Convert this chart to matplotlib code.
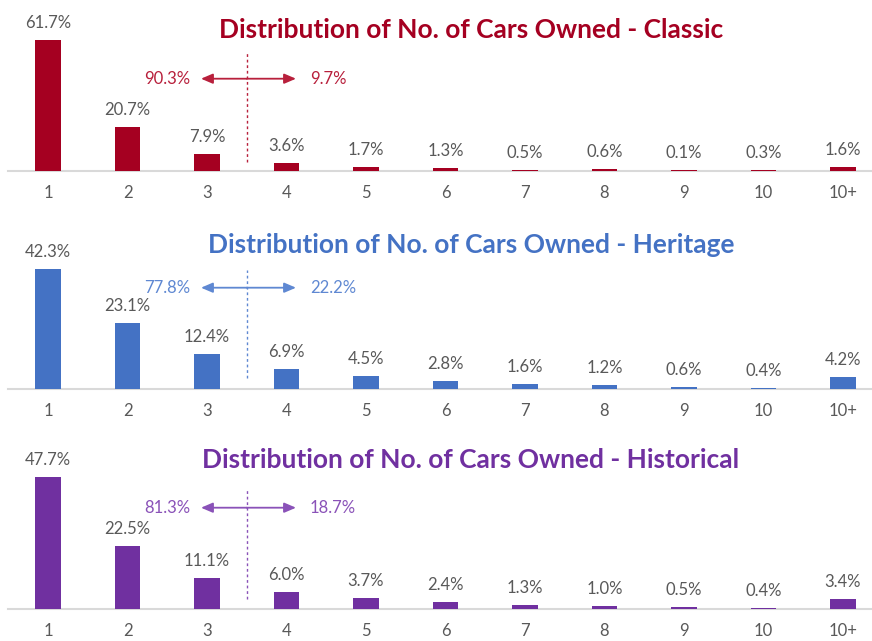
import matplotlib
matplotlib.use("Agg")
import matplotlib.pyplot as plt
from matplotlib.transforms import blended_transform_factory

categories = ["1", "2", "3", "4", "5", "6", "7", "8", "9", "10", "10+"]
classic = [61.7, 20.7, 7.9, 3.6, 1.7, 1.3, 0.5, 0.6, 0.1, 0.3, 1.6]
heritage = [42.3, 23.1, 12.4, 6.9, 4.5, 2.8, 1.6, 1.2, 0.6, 0.4, 4.2]
historical = [47.7, 22.5, 11.1, 6.0, 3.7, 2.4, 1.3, 1.0, 0.5, 0.4, 3.4]
titles = ["Distribution of No. of Cars Owned - Classic",
          "Distribution of No. of Cars Owned - Heritage",
          "Distribution of No. of Cars Owned - Historical"]
split_left = [90.3, 77.8, 81.3]
split_right = [9.7, 22.2, 18.7]

colors = ["#A50021", "#4472C4", "#7030A0"]
ann_colors = ["#B8203C", "#5F88D2", "#8A52B8"]
series = [classic, heritage, historical]

W, H = 872, 641
fig = plt.figure(figsize=(W / 100, H / 100), dpi=100)
plt.rcParams['font.family'] = ['Lato', 'DejaVu Sans']

baselines = [170.7, 388.7, 608.7]     # pixel y of baseline (from top)
scales = [2.118, 2.828, 2.77]         # px per percent
title_above = [141, 144, 149]
arrow_above = [92, 101, 101]
dash_top = [119, 119, 119]
dash_bot = [9, 10.5, 10]

x0_px, step_px = 48.0, 79.5
left_px, right_px = 8, 872
ax_h = 165.0

for i in range(3):
    xmin = (left_px - x0_px) / step_px
    xmax = (right_px - x0_px) / step_px
    ax = fig.add_axes([left_px / W, (H - baselines[i]) / H,
                       (right_px - left_px) / W, ax_h / H])
    ax.set_xlim(xmin, xmax)
    ax.set_ylim(0, ax_h / scales[i])
    xs = list(range(len(categories)))
    ax.bar(xs, series[i], width=0.315, color=colors[i], zorder=3)
    for x, v in zip(xs, series[i]):
        ax.annotate(f"{v:.1f}%", (x, v), xytext=(0, 12), textcoords="offset pixels",
                    ha="center", va="baseline", fontsize=12, color="#595959")
    for s in ["top", "right", "left"]:
        ax.spines[s].set_visible(False)
    ax.spines["bottom"].set_color("#D9D9D9")
    ax.spines["bottom"].set_linewidth(1.5)
    ax.spines["bottom"].set_zorder(1)
    ax.set_yticks([])
    ax.set_xticks(xs)
    ax.set_xticklabels(categories, fontsize=12, color="#595959")
    ax.tick_params(axis="x", length=0, pad=10.5)
    ax.patch.set_alpha(0)

    tr = blended_transform_factory(ax.transData, ax.transAxes)
    ay = arrow_above[i] / ax_h
    ax.text((471 - x0_px) / step_px,
            title_above[i] / ax_h, titles[i], transform=tr, ha="center", va="center",
            fontsize=19, fontweight="bold", color=colors[i])
    ax.plot([2.5, 2.5], [dash_bot[i] / ax_h, dash_top[i] / ax_h], transform=tr,
            color=ann_colors[i], lw=1, ls=(0, (2, 2)), clip_on=False)
    lt = (201 - x0_px) / step_px
    rt = (296 - x0_px) / step_px
    for tip in (lt, rt):
        ax.annotate("", xy=(tip, ay), xytext=(2.5, ay), xycoords=tr, textcoords=tr,
                    arrowprops=dict(arrowstyle="-|>,head_length=0.7,head_width=0.3",
                                    color=ann_colors[i], lw=1.3, shrinkA=0, shrinkB=0))
    ax.text((190 - x0_px) / step_px, ay, f"{split_left[i]:.1f}%", transform=tr,
            ha="right", va="center", fontsize=12, color=ann_colors[i])
    ax.text((310 - x0_px) / step_px, ay, f"{split_right[i]:.1f}%", transform=tr,
            ha="left", va="center", fontsize=12, color=ann_colors[i])

fig.savefig("out.png", dpi=100)
